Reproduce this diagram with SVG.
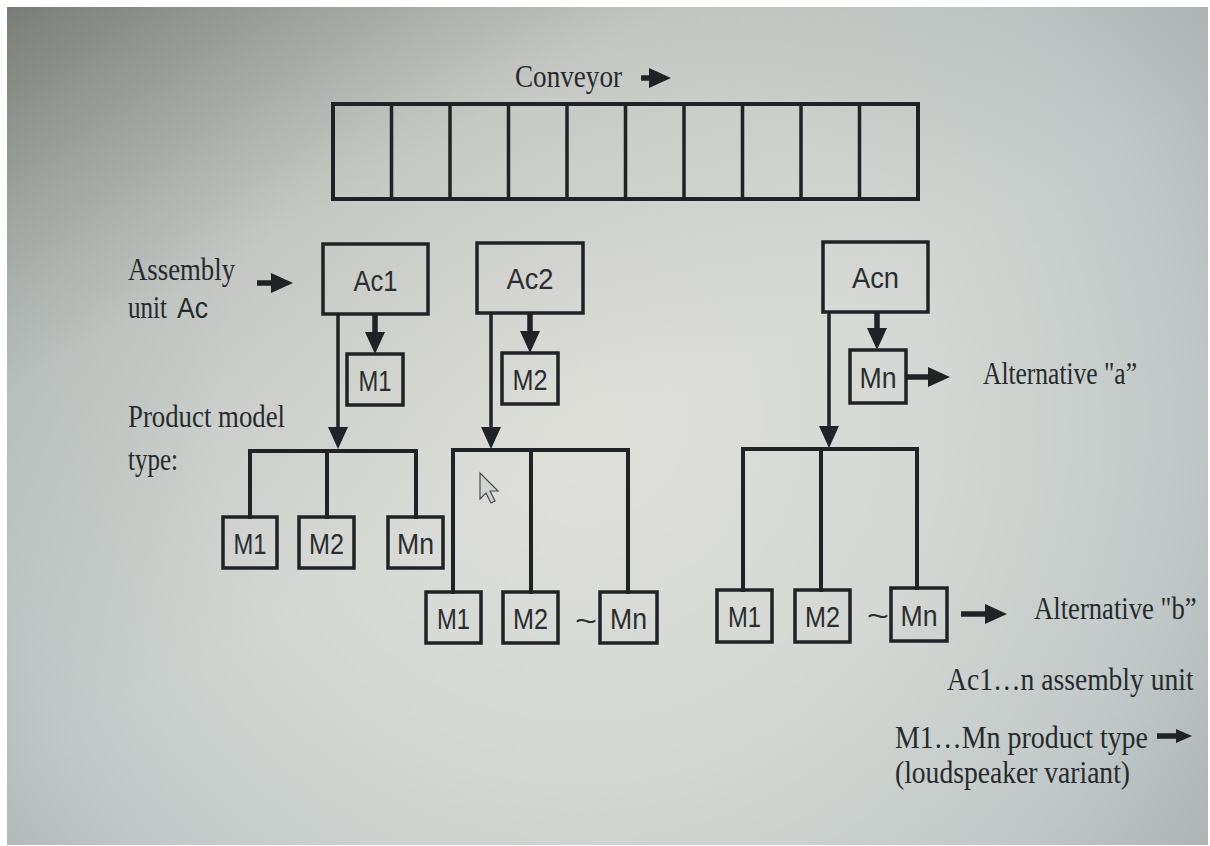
<svg xmlns="http://www.w3.org/2000/svg" width="1210" height="846" viewBox="0 0 1210 846">
<defs>
<radialGradient id="bg" cx="580" cy="420" r="800" gradientUnits="userSpaceOnUse">
<stop offset="0" stop-color="#e0e0db"/>
<stop offset="0.45" stop-color="#d4d7d3"/>
<stop offset="0.75" stop-color="#c1c9c8"/>
<stop offset="1" stop-color="#a8afae"/>
</radialGradient>
<linearGradient id="tl" x1="0" y1="0" x2="0.45" y2="0.55">
<stop offset="0" stop-color="#6f716b" stop-opacity="0.85"/>
<stop offset="0.5" stop-color="#8a8c86" stop-opacity="0.2"/>
<stop offset="1" stop-color="#8a8c86" stop-opacity="0"/>
</linearGradient>
<marker id="head" markerUnits="userSpaceOnUse" markerWidth="22" markerHeight="20" viewBox="0 0 22 20" refX="12" refY="10" orient="auto">
<path d="M0,0 L22,10 L0,20 Z" fill="#1f2326"/>
</marker>
<marker id="headS" markerUnits="userSpaceOnUse" markerWidth="16" markerHeight="14" viewBox="0 0 16 14" refX="6" refY="7" orient="auto">
<path d="M0,0 L16,7 L0,14 Z" fill="#1f2326"/>
</marker>
<style>
.box{fill:none;stroke:#1f2326;stroke-width:3.5}
.ser{font-family:"Liberation Serif","Times New Roman",serif;font-size:31px;fill:#262a2d}
.san{font-family:"Liberation Sans",Arial,sans-serif;font-size:30px;fill:#2a2e31;text-anchor:middle}
.ln{fill:none;stroke:#1f2326;stroke-width:3.5}
.thick{fill:none;stroke:#1f2326;stroke-width:5.5}
.bar{fill:none;stroke:#1f2326;stroke-width:4}
</style>
</defs>
<rect x="0" y="0" width="1210" height="846" fill="#ffffff"/>
<rect x="7" y="7" width="1201" height="838" fill="url(#bg)"/>
<rect x="7" y="7" width="1201" height="838" fill="url(#tl)"/>

<g id="conveyor">
<rect x="333" y="104" width="585" height="95" fill="none" stroke="#1f2326" stroke-width="4"/>
<path d="M391.5,104V199M450,104V199M508.5,104V199M567,104V199M625.5,104V199M684,104V199M742.5,104V199M801,104V199M859.5,104V199" stroke="#1f2326" stroke-width="3.5" fill="none"/>
<text class="ser" x="515" y="87" textLength="107" lengthAdjust="spacingAndGlyphs">Conveyor</text>
</g>

<g id="label-assembly">
<text class="ser" x="128" y="280" textLength="107" lengthAdjust="spacingAndGlyphs">Assembly</text>
<text class="ser" x="128" y="318"><tspan textLength="39" lengthAdjust="spacingAndGlyphs">unit</tspan> <tspan x="177" font-family="Liberation Sans, Arial, sans-serif" font-size="30" textLength="31" lengthAdjust="spacingAndGlyphs">Ac</tspan></text>
</g>
<g id="label-product">
<text class="ser" x="128" y="427" textLength="157" lengthAdjust="spacingAndGlyphs">Product model</text>
<text class="ser" x="128" y="470" textLength="50" lengthAdjust="spacingAndGlyphs">type:</text>
</g>

<g id="ac1"><rect class="box" x="323" y="244" width="105" height="70"/><text class="san" x="375.5" y="291" textLength="44" lengthAdjust="spacingAndGlyphs">Ac1</text></g>
<g id="ac2"><rect class="box" x="477" y="243" width="106" height="70"/><text class="san" x="530" y="289" textLength="47" lengthAdjust="spacingAndGlyphs">Ac2</text></g>
<g id="acn"><rect class="box" x="823" y="242" width="105" height="70"/><text class="san" x="875.5" y="288" textLength="47" lengthAdjust="spacingAndGlyphs">Acn</text></g>

<g id="m1-ac1"><rect class="box" x="347" y="354" width="56" height="51"/><text class="san" x="375" y="391" textLength="33" lengthAdjust="spacingAndGlyphs">M1</text></g>
<g id="m2-ac2"><rect class="box" x="502" y="353" width="56" height="51"/><text class="san" x="530" y="390" textLength="35" lengthAdjust="spacingAndGlyphs">M2</text></g>
<g id="mn-acn"><rect class="box" x="850" y="350" width="56" height="53"/><text class="san" x="878" y="388" textLength="37" lengthAdjust="spacingAndGlyphs">Mn</text></g>

<g id="g1-m1"><rect class="box" x="223" y="517" width="54" height="51"/><text class="san" x="250" y="554" textLength="33" lengthAdjust="spacingAndGlyphs">M1</text></g>
<g id="g1-m2"><rect class="box" x="299" y="517" width="55" height="51"/><text class="san" x="326.5" y="554" textLength="35" lengthAdjust="spacingAndGlyphs">M2</text></g>
<g id="g1-mn"><rect class="box" x="388" y="517" width="55" height="51"/><text class="san" x="415.5" y="554" textLength="37" lengthAdjust="spacingAndGlyphs">Mn</text></g>

<g id="g2-m1"><rect class="box" x="426" y="592" width="55" height="51"/><text class="san" x="453.5" y="629" textLength="33" lengthAdjust="spacingAndGlyphs">M1</text></g>
<g id="g2-m2"><rect class="box" x="503" y="592" width="55" height="51"/><text class="san" x="530.5" y="629" textLength="35" lengthAdjust="spacingAndGlyphs">M2</text></g>
<g id="g2-mn"><rect class="box" x="600" y="592" width="57" height="51"/><text class="san" x="628.5" y="629" textLength="37" lengthAdjust="spacingAndGlyphs">Mn</text></g>
<text class="san" x="586" y="631" textLength="22" lengthAdjust="spacingAndGlyphs">~</text>

<g id="g3-m1"><rect class="box" x="717" y="590" width="55" height="52"/><text class="san" x="744.5" y="627" textLength="33" lengthAdjust="spacingAndGlyphs">M1</text></g>
<g id="g3-m2"><rect class="box" x="795" y="590" width="55" height="52"/><text class="san" x="822.5" y="627" textLength="35" lengthAdjust="spacingAndGlyphs">M2</text></g>
<g id="g3-mn"><rect class="box" x="891" y="588" width="56" height="53"/><text class="san" x="919" y="626" textLength="37" lengthAdjust="spacingAndGlyphs">Mn</text></g>
<text class="san" x="878" y="626" textLength="22" lengthAdjust="spacingAndGlyphs">~</text>

<g id="label-alt-a"><text class="ser" x="983" y="384" textLength="154" lengthAdjust="spacingAndGlyphs">Alternative "a”</text></g>
<g id="label-alt-b"><text class="ser" transform="translate(1034,619) scale(0.86,1)" x="0" y="0">Alternative "b”</text></g>
<g id="legend">
<text class="ser" transform="translate(947,690) scale(0.89,1)" x="0" y="0">Ac1…n  assembly unit</text>
<text class="ser" x="895" y="748" textLength="253" lengthAdjust="spacingAndGlyphs">M1…Mn  product type</text>
<text class="ser" x="895" y="783" textLength="235" lengthAdjust="spacingAndGlyphs">(loudspeaker variant)</text>
</g>

<g id="connectors">
<path class="thick" d="M641,78H661" marker-end="url(#head)"/>
<path class="thick" d="M257,283H283" marker-end="url(#head)"/>
<path class="thick" d="M375,314V344" marker-end="url(#head)"/>
<path class="ln" d="M338,314V439" marker-end="url(#head)"/>
<path class="bar" d="M250,519V451H416V519M327,451V519"/>
<path class="thick" d="M530,313V343" marker-end="url(#head)"/>
<path class="ln" d="M491,313V439" marker-end="url(#head)"/>
<path class="bar" d="M453,594V450H628V594M531,450V594"/>
<path class="thick" d="M877,312V340" marker-end="url(#head)"/>
<path class="ln" d="M829,312V438" marker-end="url(#head)"/>
<path class="bar" d="M743,592V449H917V590M821,449V592"/>
<path class="thick" d="M906,377H940" marker-end="url(#head)"/>
<path class="thick" d="M961,614H997" stroke-width="7" marker-end="url(#head)"/>
<path class="thick" d="M1157,736H1182" stroke-width="5" marker-end="url(#headS)"/>
</g>

<path d="M480,473V499L486,493L491,503L495,501L490,491L498,491Z" fill="#cfd2cf" stroke="#4a4e50" stroke-width="1.2"/>
</svg>
